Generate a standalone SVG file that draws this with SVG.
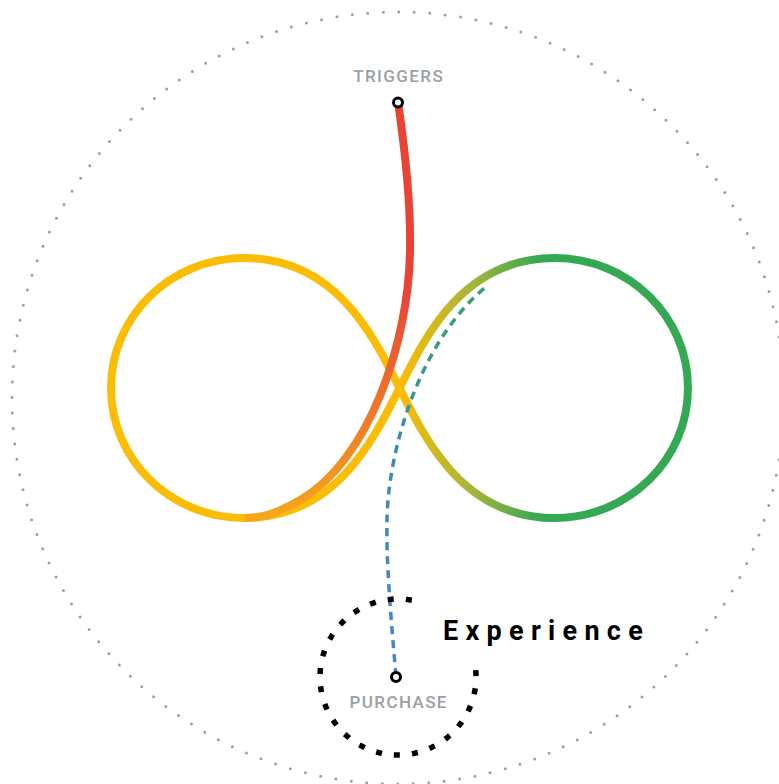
<svg xmlns="http://www.w3.org/2000/svg" width="779" height="784" viewBox="0 0 779 784">
  <defs>
    <linearGradient id="gLoop" gradientUnits="userSpaceOnUse" x1="400" y1="0" x2="540" y2="0">
      <stop offset="0" stop-color="#FBBC04"/>
      <stop offset="0.5" stop-color="#A8B53A"/>
      <stop offset="1" stop-color="#34A853"/>
    </linearGradient>
    <linearGradient id="gRed" gradientUnits="userSpaceOnUse" x1="0" y1="290" x2="0" y2="520">
      <stop offset="0" stop-color="#EA4335"/>
      <stop offset="0.6" stop-color="#F07F27"/>
      <stop offset="1" stop-color="#F6A81C"/>
    </linearGradient>
    <linearGradient id="gDash" gradientUnits="userSpaceOnUse" x1="0" y1="290" x2="0" y2="640">
      <stop offset="0" stop-color="#2EA56A"/>
      <stop offset="0.45" stop-color="#3A8DB2"/>
      <stop offset="1" stop-color="#4A80CF"/>
    </linearGradient>
    <style>
      .ring{fill:none;stroke:#9AA0A6;stroke-width:3;stroke-linecap:round;stroke-dasharray:0 15.547}
      .loop{fill:none;stroke:url(#gLoop);stroke-width:8}
      .trig{fill:none;stroke:url(#gRed);stroke-width:8;stroke-linecap:butt}
      .dash{fill:none;stroke:url(#gDash);stroke-width:3.5;stroke-dasharray:8 6}
      .pt{fill:#fff;stroke:#000;stroke-width:3}
      .lbl{font-family:Roboto,"Liberation Sans",sans-serif;font-weight:500;font-size:17px;fill:#9AA0A6;letter-spacing:1.4px;text-anchor:middle}
      .big{font-family:Roboto,"Liberation Sans",sans-serif;font-weight:700;font-size:27px;fill:#000;letter-spacing:7.3px}
      .dots{fill:none;stroke:#000;stroke-width:5.5;stroke-linecap:square;stroke-dasharray:0.5 17.668}
    </style>
  </defs>
  <rect width="779" height="784" fill="#fff"/>
  <g id="outer-ring">
    <circle class="ring" cx="398" cy="398" r="386"/>
  </g>
  <g id="infinity-loop">
    <path class="loop" d="M399.5,388 C372.5,334 335,258 244,258 C170.5,258 111,316.2 111,388 C111,459.8 170.5,518 244,518 C335,518 372.5,442 399.5,388 C426.5,334 464,258 555,258 C628.5,258 688,316.2 688,388 C688,459.8 628.5,518 555,518 C464,518 426.5,442 399.5,388 Z"/>
  </g>
  <g id="connectors">
    <path class="trig" d="M398,102 C405,150 411,200 410,250 C409,340 370,460 300,500 C279,512 265,518 245,518"/>
    <path class="dash" d="M396,676 C391,620 386,560 387,520 C388,450 420,340 487,286"/>
  </g>
  <g id="triggers">
    <text class="lbl" x="398.7" y="82">TRIGGERS</text>
    <circle class="pt" cx="398" cy="102.5" r="4.5"/>
  </g>
  <g id="purchase">
    <path class="dots" d="M475.9,672.9 A78,78 0 1 1 425.95,604.2"/>
    <circle class="pt" cx="396" cy="677" r="4.5"/>
    <text class="lbl" x="398.7" y="708">PURCHASE</text>
  </g>
  <g id="experience">
    <text class="big" x="443" y="640">Experience</text>
  </g>
</svg>
